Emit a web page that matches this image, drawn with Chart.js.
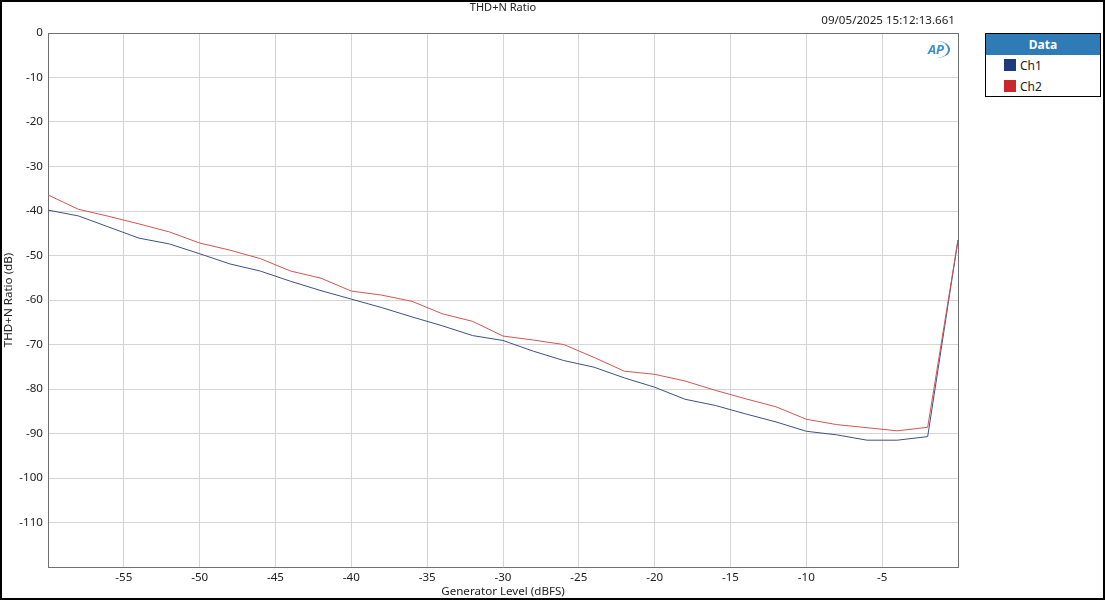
<!DOCTYPE html>
<html>
<head>
<meta charset="utf-8">
<script src="https://cdn.jsdelivr.net/npm/chart.js@4/dist/chart.umd.min.js"></script>
<style>
  body { margin: 0; background: #fff; font-family: "Noto Sans", sans-serif; }
  #wrap { position: relative; width: 1105px; height: 600px; }
  #frame { position: absolute; left: 0; top: 0; width: 1105px; height: 600px; box-sizing: border-box; border: 2px solid #000; pointer-events: none; }
  .txt { position: absolute; font-size: 11.6px; color: #222; white-space: nowrap; line-height: 14px; }
  #legend { position: absolute; left: 985px; top: 33px; width: 116px; height: 64px; box-sizing: border-box; border: 1px solid #000; background: #fff; }
  #legend .head { background: #2f7bb6; color: #fff; font-weight: bold; font-size: 12px; text-align: center; height: 21px; line-height: 21px; }
  #legend .item { position: relative; height: 21px; font-size: 12px; line-height: 21px; padding-left: 34px; color: #222; }
  #legend .sw { position: absolute; left: 18px; top: 4px; width: 12px; height: 12px; }
  #ap { position: absolute; left: 924px; top: 41px; width: 24px; height: 17px; border-right: 2px solid #3a8fd0; border-radius: 50%; color: #3a8fd0; font-weight: bold; font-style: italic; font-size: 13px; line-height: 17px; text-align: center; }
</style>
</head>
<body>
<div id="wrap">
  <canvas id="c" width="1105" height="600"></canvas>
  <div class="txt" style="left:0;width:1006px;top:0;text-align:center;font-size:11px;">THD+N Ratio</div>
  <div class="txt" style="right:150px;top:13px;">09/05/2025 15:12:13.661</div>
  <div id="ap">AP</div>
  <div id="legend">
    <div class="head">Data</div>
    <div class="item"><span class="sw" style="background:#1d3a7c"></span>Ch1</div>
    <div class="item"><span class="sw" style="background:#c8282c"></span>Ch2</div>
  </div>
  <div id="frame"></div>
</div>
<script>
// generator level (dBFS)
var levels = [-60, -58, -56, -54, -52, -50, -48, -46, -44, -42, -40, -38, -36, -34, -32, -30,
              -28, -26, -24, -22, -20, -18, -16, -14, -12, -10, -8, -6, -4, -2, 0];
// THD+N ratio (dB)
var ch1 = [-39.8, -41.1, -43.6, -46.1, -47.4, -49.6, -51.9, -53.5, -55.8, -57.9, -59.8, -61.7, -63.8, -65.8, -68.0, -69.1,
           -71.5, -73.6, -75.1, -77.5, -79.6, -82.3, -83.7, -85.6, -87.4, -89.5, -90.3, -91.5, -91.5, -90.7, -46.5];
var ch2 = [-36.4, -39.6, -41.2, -42.9, -44.7, -47.2, -48.8, -50.7, -53.5, -55.1, -58.0, -58.9, -60.3, -63.1, -64.8, -68.1,
           -69.0, -70.0, -72.9, -76.0, -76.7, -78.2, -80.3, -82.2, -84.0, -86.8, -88.0, -88.7, -89.4, -88.6, -46.5];

var hiddenX = [-60, 0];
var hiddenY = [-120];

function pts(ys) {
    return levels.map((x, i) => ({ x: x, y: ys[i] }));
}

var edge = "#707070";
var gridCol = "#d4d4d4";
var font = { family: "Noto Sans", size: 11.6 };

new Chart(document.getElementById("c"), {
    type: "line",
    data: {
        datasets: [
            { label: "Ch2", data: pts(ch2), borderColor: "#d45353", borderWidth: 1, pointRadius: 0, tension: 0 },
            { label: "Ch1", data: pts(ch1), borderColor: "#3d5189", borderWidth: 1, pointRadius: 0, tension: 0 },
        ],
    },
    options: {
        responsive: false,
        animation: false,
        layout: { padding: { left: 0, top: 33, right: 1105 - 958, bottom: 0 } },
        plugins: {
            legend: { display: false },
            tooltip: { enabled: false },
        },
        scales: {
            x: {
                type: "linear",
                min: -60,
                max: 0,
                afterFit: (s) => { s.height = 33; },
                ticks: {
                    stepSize: 5,
                    padding: 4,
                    color: "#222",
                    font: font,
                    maxRotation: 0,
                    callback: (v) => (hiddenX.includes(v) ? "" : v),
                },
                grid: {
                    drawTicks: false,
                    color: (ctx) => (ctx.tick && ctx.tick.value === 0 ? edge : gridCol),
                },
                border: { color: edge, width: 1 },
                title: {
                    display: true,
                    text: "Generator Level (dBFS)",
                    color: "#222",
                    font: font,
                    padding: { top: 0, bottom: 1 },
                },
            },
            y: {
                min: -120,
                max: 0,
                afterFit: (s) => { s.width = 48; },
                ticks: {
                    stepSize: 10,
                    padding: 5,
                    color: "#222",
                    font: font,
                    callback: (v) => (hiddenY.includes(v) ? "" : v),
                },
                grid: {
                    drawTicks: false,
                    color: (ctx) => (ctx.tick && ctx.tick.value === 0 ? edge : gridCol),
                },
                border: { color: edge, width: 1 },
                title: {
                    display: true,
                    text: "THD+N Ratio (dB)",
                    color: "#222",
                    font: font,
                    padding: { top: 2, bottom: 0 },
                },
            },
        },
    },
});
</script>
</body>
</html>
